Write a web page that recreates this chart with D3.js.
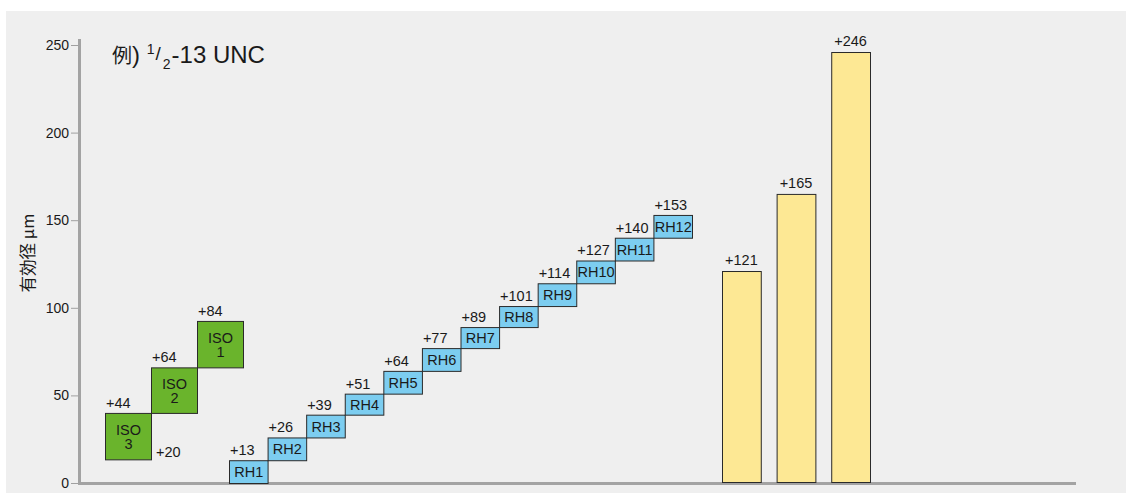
<!DOCTYPE html>
<html>
<head>
<meta charset="utf-8">
<script src="https://cdn.jsdelivr.net/npm/d3@7"></script>
<style>
body { margin: 0; background: #fff; }
text { font-family: "Liberation Sans", Arial, "Noto Sans CJK JP", sans-serif; fill: #1a1a1a; }
</style>
</head>
<body>
<div id="draw"></div>
<script>
// ISO tolerance classes (drawn left to right: ISO 3, ISO 2, ISO 1)
var isoCats = ['ISO 3', 'ISO 2', 'ISO 1'];
var isoLow = [13.5, 40, 66];
var isoHigh = [40, 66, 92.5];
var isoTopLabels = ['+44', '+64', '+84'];
var isoBottomLabel = '+20';

// RH gauge limits
var rhCats = ['RH1', 'RH2', 'RH3', 'RH4', 'RH5', 'RH6', 'RH7', 'RH8', 'RH9', 'RH10', 'RH11', 'RH12'];
var rhLow = [0, 13, 26, 39, 51, 64, 77, 89, 101, 114, 127, 140];
var rhHigh = [13, 26, 39, 51, 64, 77, 89, 101, 114, 127, 140, 153];

// yellow bars
var barCats = ['b1', 'b2', 'b3'];
var barValues = [121, 165, 246];

var yTicks = [0, 50, 100, 150, 200, 250];

var W = 1126, H = 493;

var svg = d3
	.select('#draw')
	.append('svg')
	.attr('width', W)
	.attr('height', H);

svg.append('rect')
	.attr('x', 6).attr('y', 11)
	.attr('width', W - 6).attr('height', H - 11)
	.attr('fill', '#efefef');

var y = d3.scaleLinear().domain([0, 250]).range([483, 45]);
var isoX = d3.scaleBand().domain(isoCats).range([105, 243]);
var rhX = d3.scaleBand().domain(rhCats).range([229, 692]);
var barX = d3.scaleBand().domain(barCats).range([722, 870]).paddingInner(0.29);

// y axis
var yAxis = svg.append('g')
	.attr('transform', 'translate(78,0)')
	.call(d3.axisLeft(y).tickValues(yTicks).tickSize(7).tickPadding(2));
yAxis.select('.domain').remove();
yAxis.selectAll('.tick line').attr('stroke', '#a0a0a0');
yAxis.selectAll('.tick text')
	.style('font-size', '14px')
	.style('font-family', '"Liberation Sans", Arial, sans-serif')
	.attr('fill', '#1a1a1a');

svg.append('line')
	.attr('x1', 79.5).attr('x2', 79.5)
	.attr('y1', 39).attr('y2', y(0) + 1.5)
	.attr('stroke', '#a3a3a3').attr('stroke-width', 3);
svg.append('line')
	.attr('x1', 78).attr('x2', 1076)
	.attr('y1', y(0) + 0.5).attr('y2', y(0) + 0.5)
	.attr('stroke', '#a3a3a3').attr('stroke-width', 3);

svg.append('text')
	.attr('transform', 'translate(27,253) rotate(-90)')
	.attr('text-anchor', 'middle')
	.attr('dominant-baseline', 'central')
	.style('font-family', '"Noto Sans CJK JP", sans-serif')
	.style('font-size', '16.5px')
	.text('有効径 μm');

// title
var title = svg.append('text').attr('x', 112).attr('y', 63).style('font-size', '24px');
title.append('tspan').style('font-family', '"Noto Sans CJK JP", sans-serif').style('font-size', '20px').text('例');
title.append('tspan').text(')  ');
title.append('tspan').style('font-size', '14px').attr('dy', -9).text('1');
title.append('tspan').style('font-size', '19px').attr('dx', 1).attr('dy', 6).text('/');
title.append('tspan').style('font-size', '14px').attr('dx', 2).attr('dy', 9).text('2');
title.append('tspan').attr('dx', 1).attr('dy', -6).text('-13 UNC');

// ISO boxes
var iso = svg.selectAll('g.iso')
	.data(isoCats)
	.enter()
	.append('g')
	.attr('class', 'iso');
iso.append('rect')
	.attr('x', function (d) { return isoX(d) + 0.5; })
	.attr('y', function (d, i) { return y(isoHigh[i]) + 0.5; })
	.attr('width', isoX.bandwidth())
	.attr('height', function (d, i) { return y(isoLow[i]) - y(isoHigh[i]); })
	.attr('fill', '#6ab42c')
	.attr('stroke', '#2a2a2a');
iso.append('text')
	.attr('x', function (d) { return isoX(d) + isoX.bandwidth() / 2 + 0.5; })
	.attr('y', function (d, i) { return (y(isoHigh[i]) + y(isoLow[i])) / 2 - 1; })
	.attr('text-anchor', 'middle')
	.style('font-size', '14.5px')
	.text('ISO');
iso.append('text')
	.attr('x', function (d) { return isoX(d) + isoX.bandwidth() / 2 + 0.5; })
	.attr('y', function (d, i) { return (y(isoHigh[i]) + y(isoLow[i])) / 2 + 13; })
	.attr('text-anchor', 'middle')
	.style('font-size', '14.5px')
	.text(function (d) { return d.split(' ')[1]; });
iso.append('text')
	.attr('x', function (d) { return isoX(d) + 1; })
	.attr('y', function (d, i) { return y(isoHigh[i]) - 5; })
	.style('font-size', '14.5px')
	.text(function (d, i) { return isoTopLabels[i]; });
svg.append('text')
	.attr('x', isoX(isoCats[0]) + isoX.bandwidth() + 5)
	.attr('y', y(isoLow[0]) - 2)
	.style('font-size', '14.5px')
	.text(isoBottomLabel);

// RH boxes
var rh = svg.selectAll('g.rh')
	.data(rhCats)
	.enter()
	.append('g')
	.attr('class', 'rh');
rh.append('rect')
	.attr('x', function (d) { return rhX(d) + 0.5; })
	.attr('y', function (d, i) { return y(rhHigh[i]) + 0.5; })
	.attr('width', rhX.bandwidth())
	.attr('height', function (d, i) { return y(rhLow[i]) - y(rhHigh[i]); })
	.attr('fill', '#7ccdf0')
	.attr('stroke', '#2a2a2a');
rh.append('text')
	.attr('x', function (d) { return rhX(d) + rhX.bandwidth() / 2 + 0.5; })
	.attr('y', function (d, i) { return (y(rhHigh[i]) + y(rhLow[i])) / 2 + 5.5; })
	.attr('text-anchor', 'middle')
	.style('font-size', '14.5px')
	.text(function (d) { return d; });
rh.append('text')
	.attr('x', function (d) { return rhX(d) + 1; })
	.attr('y', function (d, i) { return y(rhHigh[i]) - 5; })
	.style('font-size', '14.5px')
	.text(function (d, i) { return '+' + rhHigh[i]; });

// yellow bars
svg.selectAll('rect.bar')
	.data(barValues)
	.enter()
	.append('rect')
	.attr('class', 'bar')
	.attr('x', function (d, i) { return barX(barCats[i]) + 0.5; })
	.attr('y', function (d) { return y(d) + 0.5; })
	.attr('width', barX.bandwidth())
	.attr('height', function (d) { return y(0) - y(d) - 1; })
	.attr('fill', '#fde894')
	.attr('stroke', '#2a2a2a');
svg.selectAll('text.barlabel')
	.data(barValues)
	.enter()
	.append('text')
	.attr('class', 'barlabel')
	.attr('x', function (d, i) { return barX(barCats[i]) + barX.bandwidth() / 2; })
	.attr('y', function (d) { return y(d) - 6; })
	.attr('text-anchor', 'middle')
	.style('font-size', '14.5px')
	.text(function (d) { return '+' + d; });
</script>
</body>
</html>
